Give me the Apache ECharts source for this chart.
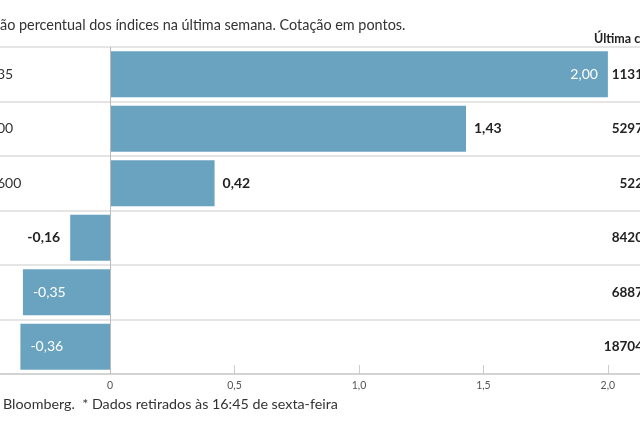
<!DOCTYPE html>
<html>
<head>
<meta charset="utf-8">
<script src="https://cdn.jsdelivr.net/npm/echarts@6/dist/echarts.min.js"></script>
<style>
html,body{margin:0;padding:0;background:#fff;}
#c{width:640px;height:426px;}
</style>
</head>
<body>
<div id="c"></div>
<script>
// Data (as visible in the cropped reference)
const categories = ["35", "00", "600", "", "", ""];
const changes = [2.00, 1.43, 0.42, -0.16, -0.35, -0.36];
const lastQuotes = ["1131", "5297", "522", "8420", "6887", "18704"];
const xTicks = [0, 0.5, 1.0, 1.5, 2.0];
const xMin = -0.442, xMax = 2.129;
const titleText = "ão percentual dos índices na última semana. Cotação em pontos.";
const headerText = "Última c";
const footerText = "Bloomberg.  * Dados retirados às 16:45 de sexta-feira";

const FONT = "Lato, 'Noto Sans', sans-serif";
const fmt = v => v.toFixed(2).replace('.', ',');

function labelFor(v) {
  if (v >= 1.5) return {position: 'insideRight', distance: 10, color: '#fff', fontWeight: 'normal'};
  if (v >= 0) return {position: 'right', distance: 8, color: '#222', fontWeight: 'bold'};
  if (v > -0.3) return {position: 'left', distance: 10, color: '#222', fontWeight: 'bold'};
  return {position: 'insideLeft', distance: 10, color: '#fff', fontWeight: 'normal'};
}

const chart = echarts.init(document.getElementById('c'), null, {renderer: 'canvas'});
chart.setOption({
  animation: false,
  backgroundColor: '#fff',
  textStyle: {fontFamily: FONT},
  title: [
    {text: titleText, left: 0, top: 18, padding: 0, textStyle: {fontFamily: FONT, fontSize: 14.4, fontWeight: 'normal', color: '#333'}},
    {text: headerText, left: 594, top: 32, padding: 0, textStyle: {fontFamily: FONT, fontSize: 12.5, fontWeight: 'bold', color: '#222'}},
    {text: footerText, left: 3, top: 397, padding: 0, textStyle: {fontFamily: FONT, fontSize: 14.3, fontWeight: 'normal', color: '#333'}}
  ],
  grid: {left: 0, right: 0, top: 47, bottom: 52, containLabel: false, outerBoundsMode: 'none'},
  xAxis: {
    type: 'value',
    min: xMin,
    max: xMax,
    splitNumber: 5,
    axisLine: {show: true, lineStyle: {color: '#ccc', width: 1.5}},
    axisTick: {show: true, inside: true, length: 9, customValues: xTicks, lineStyle: {color: '#ccc'}},
    splitLine: {show: false},
    axisLabel: {
      color: '#555', fontSize: 10.5, margin: 6, fontFamily: FONT,
      customValues: xTicks,
      formatter: v => (v === 0 ? '0' : v.toFixed(1).replace('.', ','))
    }
  },
  yAxis: [
    {
      type: 'category',
      data: categories,
      inverse: true,
      axisLine: {show: false, onZero: false},
      axisTick: {show: false},
      splitLine: {show: true, interval: 0, lineStyle: {color: '#ddd', width: 1.5}},
      axisLabel: {inside: true, margin: -3, color: '#333', fontSize: 14, fontFamily: FONT, interval: 0}
    },
    {
      type: 'category',
      data: lastQuotes,
      inverse: true,
      position: 'right',
      offset: 3,
      axisLine: {show: false, onZero: false},
      axisTick: {show: false},
      splitLine: {show: false},
      axisLabel: {align: 'right', margin: 0, color: '#222', fontSize: 13.5, fontWeight: 'bold', fontFamily: FONT, interval: 0}
    }
  ],
  series: [{
    type: 'bar',
    barWidth: 46,
    itemStyle: {color: '#6aa3bf'},
    data: changes.map(v => ({value: v, label: Object.assign({show: true, fontSize: 14, fontFamily: FONT, formatter: p => fmt(p.value)}, labelFor(v))})),
    markLine: {
      silent: true,
      symbol: 'none',
      label: {show: false},
      lineStyle: {color: '#bbb', width: 1, type: 'solid'},
      data: [{xAxis: 0}]
    }
  }]
});
</script>
</body>
</html>
